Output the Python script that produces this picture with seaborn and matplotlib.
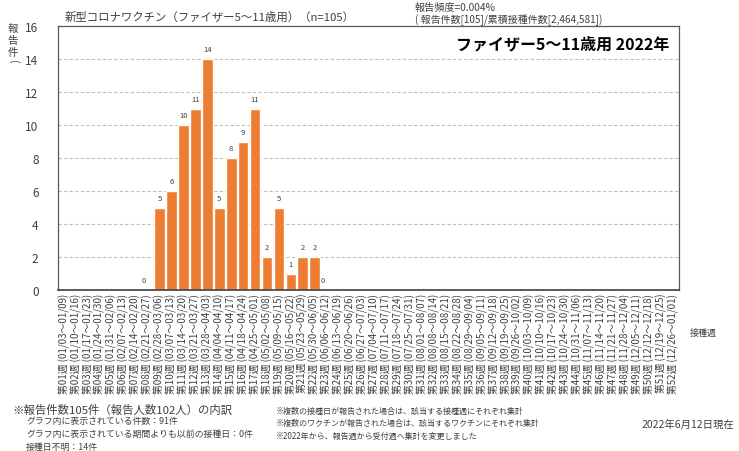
import numpy as np
import pandas as pd
import matplotlib
matplotlib.use("Agg")
import matplotlib.pyplot as plt
import seaborn as sns

week_labels = [
    "第01週 (01/03～01/09)", "第02週 (01/10～01/16)", "第03週 (01/17～01/23)", "第04週 (01/24～01/30)",
    "第05週 (01/31～02/06)", "第06週 (02/07～02/13)", "第07週 (02/14～02/20)", "第08週 (02/21～02/27)",
    "第09週 (02/28～03/06)", "第10週 (03/07～03/13)", "第11週 (03/14～03/20)", "第12週 (03/21～03/27)",
    "第13週 (03/28～04/03)", "第14週 (04/04～04/10)", "第15週 (04/11～04/17)", "第16週 (04/18～04/24)",
    "第17週 (04/25～05/01)", "第18週 (05/02～05/08)", "第19週 (05/09～05/15)", "第20週 (05/16～05/22)",
    "第21週 (05/23～05/29)", "第22週 (05/30～06/05)", "第23週 (06/06～06/12)", "第24週 (06/13～06/19)",
    "第25週 (06/20～06/26)", "第26週 (06/27～07/03)", "第27週 (07/04～07/10)", "第28週 (07/11～07/17)",
    "第29週 (07/18～07/24)", "第30週 (07/25～07/31)", "第31週 (08/01～08/07)", "第32週 (08/08～08/14)",
    "第33週 (08/15～08/21)", "第34週 (08/22～08/28)", "第35週 (08/29～09/04)", "第36週 (09/05～09/11)",
    "第37週 (09/12～09/18)", "第38週 (09/19～09/25)", "第39週 (09/26～10/02)", "第40週 (10/03～10/09)",
    "第41週 (10/10～10/16)", "第42週 (10/17～10/23)", "第43週 (10/24～10/30)", "第44週 (10/31～11/06)",
    "第45週 (11/07～11/13)", "第46週 (11/14～11/20)", "第47週 (11/21～11/27)", "第48週 (11/28～12/04)",
    "第49週 (12/05～12/11)", "第50週 (12/12～12/18)", "第51週 (12/19～12/25)", "第52週 (12/26～01/01)",
]
nan = np.nan
reports = [nan, nan, nan, nan, nan, nan, nan, 0,
           5, 6, 10, 11, 14, 5, 8, 9, 11, 2, 5, 1, 2, 2, 0,
           nan, nan, nan, nan, nan, nan, nan, nan, nan, nan, nan, nan, nan, nan, nan, nan,
           nan, nan, nan, nan, nan, nan, nan, nan, nan, nan, nan, nan, nan]
y_ticks = [0, 2, 4, 6, 8, 10, 12, 14, 16]

sns.set_theme(style="white")
plt.rcParams['font.family'] = ['Noto Sans CJK JP', 'DejaVu Sans']

df = pd.DataFrame({"week": week_labels, "count": pd.Series(reports).fillna(0)})

fig = plt.figure(figsize=(7.39, 4.52), dpi=100)
ax = fig.add_axes([58/739, 1-291/452, 621/739, 264/452])

sns.barplot(data=df, x="week", y="count", color="#ED7D31", saturation=1, width=0.9, ax=ax)

ax.set_ylim(0, 16)
ax.set_xlim(-0.5, len(week_labels) - 0.5)
ax.set_yticks(y_ticks)
ax.set_yticklabels([str(t) for t in y_ticks], fontsize=8.5, color="#404040")
ax.tick_params(axis='y', length=0, pad=14)
ax.tick_params(axis='x', length=0, pad=2)
ax.set_xticks(range(len(week_labels)))
ax.set_xticklabels(week_labels, rotation=90, fontsize=7.0, color="#404040", va="top")
ax.set_xlabel("")
ax.set_ylabel("")
for t in y_ticks[1:-1]:
    ax.axhline(t, color="#BFBFBF", lw=0.8, ls=(0, (3, 2)), zorder=0)
for s in ax.spines.values():
    s.set_color("#595959")
    s.set_linewidth(0.9)
ax.spines['bottom'].set_color("#404040")
ax.spines['bottom'].set_linewidth(1.2)

for i, v in enumerate(reports):
    if not np.isnan(v):
        ax.text(i - (0.3 if v == 0 else 0), v + 0.35, f"{int(v)}", ha="center", va="bottom",
                fontsize=5.5, color="#404040")

ax.text(0.985, 0.935, "ファイザー5～11歳用 2022年", transform=ax.transAxes, ha="right", va="center",
        fontsize=11.5, fontweight="bold", color="#000000")

fig.text(65/739, 1-17/452, "新型コロナワクチン（ファイザー5～11歳用）（n=105）", fontsize=8.2,
         color="#404040", va="center")
fig.text(415/739, 1-8/452, "報告頻度=0.004%", fontsize=7.3, color="#404040", va="center")
fig.text(415/739, 1-20/452, "( 報告件数[105]/累積接種件数[2,464,581])", fontsize=7.2, color="#404040", va="center")
for ch, yy in [("報", 29), ("告", 41), ("件", 53)]:
    fig.text(13/739, 1-yy/452, ch, fontsize=7.5, color="#404040", va="center", ha="center")
fig.text(13/739, 1-62/452, "(", fontsize=7.5, color="#404040", va="center", ha="center", rotation=-90)
fig.text(690/739, 1-333/452, "接種週", fontsize=6.5, color="#404040", va="center")

fig.text(12/739, 1-410/452, "※報告件数105件（報告人数102人）の内訳", fontsize=8.2, color="#404040", va="center")
fig.text(26/739, 1-422/452, "グラフ内に表示されている件数：91件", fontsize=6.4, color="#404040", va="center")
fig.text(26/739, 1-434/452, "グラフ内に表示されている期間よりも以前の接種日：0件", fontsize=6.4, color="#404040", va="center")
fig.text(26/739, 1-447/452, "接種日不明：14件", fontsize=6.4, color="#404040", va="center")
fig.text(276/739, 1-411/452, "※複数の接種日が報告された場合は、該当する接種週にそれぞれ集計", fontsize=5.8, color="#404040", va="center")
fig.text(276/739, 1-423/452, "※複数のワクチンが報告された場合は、該当するワクチンにそれぞれ集計", fontsize=5.8, color="#404040", va="center")
fig.text(276/739, 1-436/452, "※2022年から、報告週から受付週へ集計を変更しました", fontsize=5.8, color="#404040", va="center")
fig.text(734/739, 1-425/452, "2022年6月12日現在", fontsize=7.5, color="#404040", va="center", ha="right")

fig.savefig("out.png", dpi=100)
